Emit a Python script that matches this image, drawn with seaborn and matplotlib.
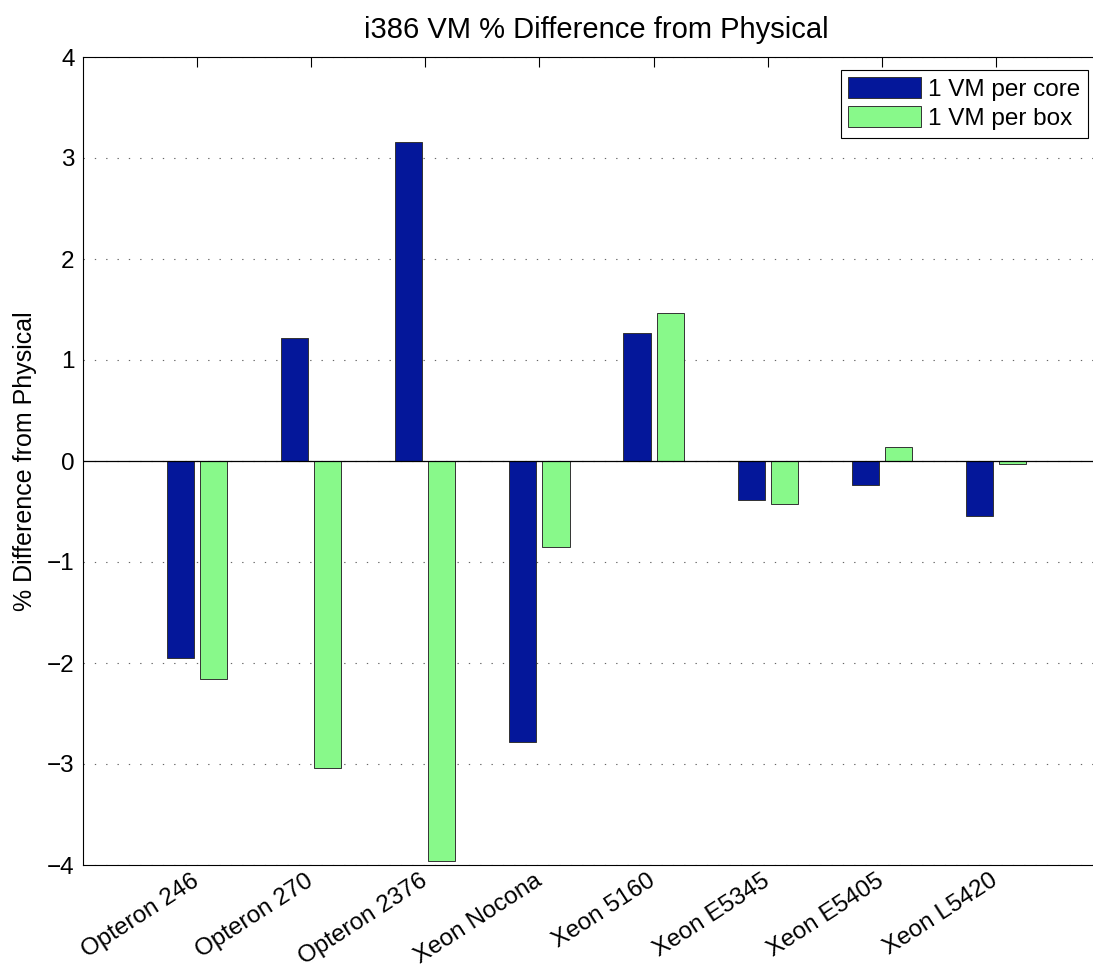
import matplotlib
matplotlib.use("Agg")
import matplotlib.pyplot as plt
import seaborn as sns
import pandas as pd

# ---- data ----
cpus = ["Opteron 246", "Opteron 270", "Opteron 2376", "Xeon Nocona",
        "Xeon 5160", "Xeon E5345", "Xeon E5405", "Xeon L5420"]
per_core = [-1.95, 1.22, 3.16, -2.78, 1.27, -0.39, -0.24, -0.54]
per_box = [-2.16, -3.04, -3.96, -0.85, 1.47, -0.43, 0.14, -0.03]
series_names = ["1 VM per core", "1 VM per box"]
yticks = [-4, -3, -2, -1, 0, 1, 2, 3, 4]
title = "i386 VM % Difference from Physical"
ylabel = "% Difference from Physical"

df = pd.DataFrame({
    "cpu": cpus * 2,
    "diff": per_core + per_box,
    "config": [series_names[0]] * len(cpus) + [series_names[1]] * len(cpus),
})

sns.set_theme(style="white")
plt.rcParams["font.family"] = ["Liberation Sans", "DejaVu Sans"]
plt.rcParams["text.color"] = "black"
plt.rcParams["axes.labelcolor"] = "black"
plt.rcParams["xtick.color"] = "black"
plt.rcParams["ytick.color"] = "black"
plt.rcParams["axes.edgecolor"] = "black"
plt.rcParams["axes.linewidth"] = 0.8

fig = plt.figure(figsize=(10.93, 9.67), dpi=100)
ax = fig.add_axes([83 / 1093, 102 / 967, 1027 / 1093, 808 / 967])

sns.barplot(data=df, x="cpu", y="diff", hue="config", order=cpus,
            hue_order=series_names, palette=["#04179A", "#88F98A"],
            width=0.58, gap=0.18, errorbar=None, edgecolor="#333333",
            linewidth=0.7, saturation=1, ax=ax)

ax.set_xlim(-1, len(cpus))
ax.set_ylim(-4, 4)
ax.set_yticks(yticks)
ax.set_xlabel("")
ax.set_ylabel(ylabel, fontsize=18, labelpad=7)
ax.set_title(title, fontsize=21, pad=14)

ax.set_axisbelow(True)
ax.yaxis.grid(True, linestyle=(0, (1.2, 9)), color="#666666", linewidth=0.8)
ax.xaxis.grid(False)
ax.axhline(0, color="black", linewidth=0.9, zorder=3)

for s in ax.spines.values():
    s.set_visible(True)
    s.set_color("black")
    s.set_linewidth(0.8)

ax.tick_params(axis="both", direction="in", length=7, width=0.8, color="black",
               top=True, right=True, labelsize=17.5, labelcolor="black")
ax.tick_params(axis="y", pad=6)
ax.tick_params(axis="x", pad=10)
for lab in ax.get_xticklabels():
    lab.set_rotation(33)
    lab.set_ha("right")
    lab.set_va("center")
    lab.set_rotation_mode("anchor")

sns.move_legend(ax, "upper right", bbox_to_anchor=(1 - 22 / 1027, 1 - 13 / 808),
                borderaxespad=0, title=None, frameon=True, fancybox=False,
                edgecolor="black", framealpha=1, fontsize=17.5,
                handlelength=3.0, handleheight=0.95, handletextpad=0.3,
                labelspacing=0.22, borderpad=0.3)
leg = ax.get_legend()
leg.get_frame().set_linewidth(0.8)
for t in leg.get_texts():
    t.set_color("black")

fig.savefig("out.png", dpi=100)
